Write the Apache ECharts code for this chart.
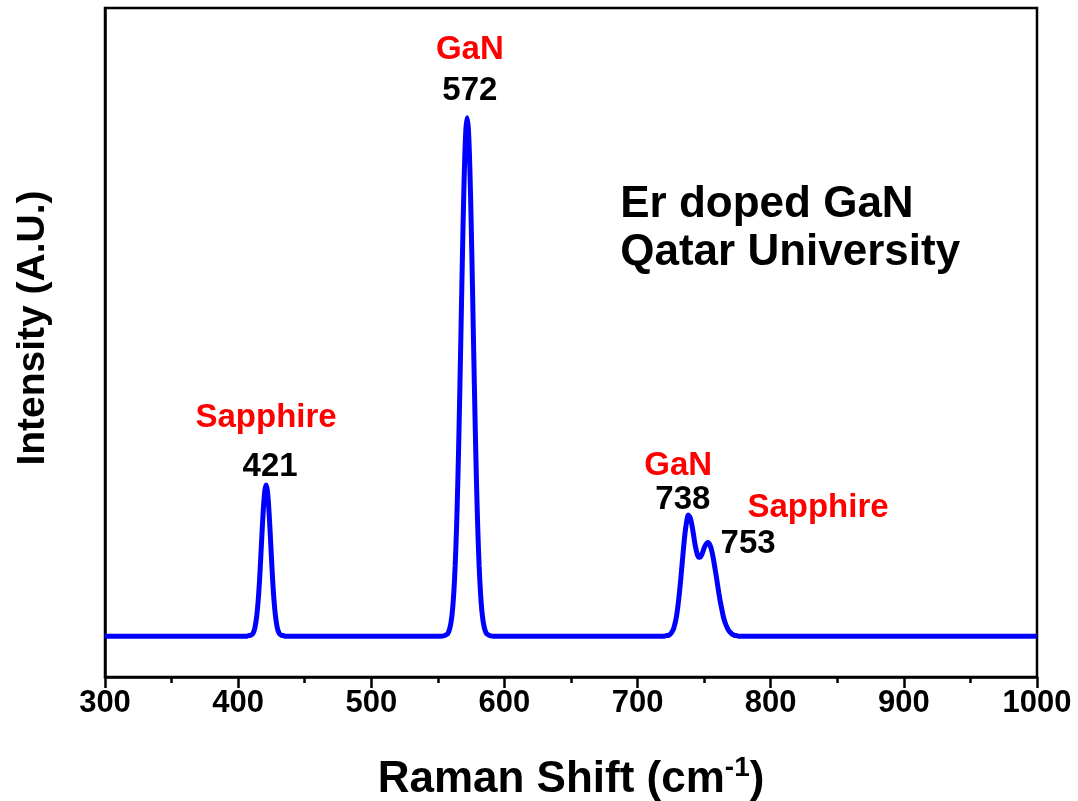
<!DOCTYPE html>
<html>
<head>
<meta charset="utf-8">
<script src="https://cdn.jsdelivr.net/npm/echarts@6/dist/echarts.min.js"></script>
<style>
html,body{margin:0;padding:0;background:#fff;overflow:hidden;}
#chart{width:1078px;height:801px;}
</style>
</head>
<body>
<div id="chart"></div>
<script>
// Raman shift (cm^-1) and intensity (A.U., arbitrary scale)
const ramanShift = [
  300, 350, 400, 407, 408, 409, 410, 411, 412, 413, 414, 415, 416, 417, 418, 419, 420,
  421, 422, 423, 424, 425, 426, 427, 428, 429, 430, 431, 432, 433, 434, 435, 450, 500, 550,
  552, 555, 557, 558, 559, 560, 561, 562, 563, 564, 565, 566, 567, 568, 569, 570, 571,
  572, 573, 574, 575, 576, 577, 578, 579, 580, 581, 582, 583, 584, 585, 586, 587, 589, 592,
  650, 700, 720, 722, 723, 724, 725, 726, 727, 728, 729, 730, 731, 732, 733, 734, 735, 736, 737,
  738, 739, 740, 741, 742, 743, 744, 745, 746, 747, 748, 749, 750, 751, 752,
  753, 754, 755, 756, 757, 758, 759, 760, 761, 762, 763, 764, 765, 766, 767, 768, 769, 770,
  771, 772, 773, 774, 776, 800, 900, 1000
];
const intensity = [
  61, 61, 61, 61, 62, 62, 63, 65, 69, 78, 92, 113, 142, 179, 218, 253, 278,
  287, 278, 253, 218, 179, 142, 113, 92, 78, 69, 65, 63, 62, 62, 61, 61, 61, 61,
  61, 62, 64, 67, 73, 83, 100, 127, 166, 221, 292, 380, 479, 583, 682, 763, 817,
  836, 817, 763, 682, 583, 479, 380, 292, 221, 166, 127, 100, 83, 73, 67, 64, 62, 61,
  61, 61, 61, 62, 62, 63, 65, 68, 72, 79, 88, 101, 118, 137, 159, 181, 203, 221, 234,
  242, 240, 235, 225, 213, 200, 190, 182, 179, 179, 182, 187, 193, 197, 200,
  201, 199, 194, 186, 176, 164, 152, 139, 126, 114, 104, 94, 86, 80, 75, 71, 68, 66,
  64, 63, 62, 62, 61, 61, 61, 61
];
const xTicks = { min: 300, max: 1000, interval: 100 };
const yRange = { min: 0, max: 1000 };

// Peak annotations: [x, y] in data units, text, colour
const peakLabelPos = [[574, 937], [574, 876], [421, 388], [424, 314], [730.5, 316], [734, 265], [835.5, 253], [783, 199]];
const peakLabelText = ['GaN', '572', 'Sapphire', '421', 'GaN', '738', 'Sapphire', '753'];
const peakLabelColor = ['#ff0000', '#000000', '#ff0000', '#000000', '#ff0000', '#000000', '#ff0000', '#000000'];

const infoPos = [[687, 705], [687, 634]];
const infoText = ['Er doped GaN', 'Qatar University'];

const xTitle = 'Raman Shift (cm{sup|-1})';
const yTitle = 'Intensity (A.U.)';

const FONT = '"Liberation Sans", Arial, sans-serif';

const chart = echarts.init(document.getElementById('chart'));
const lineData = ramanShift.map((x, i) => [x, intensity[i]]);

const labelData = peakLabelPos.map((p, i) => ({
  value: p,
  label: { formatter: peakLabelText[i], color: peakLabelColor[i] }
}));
const infoData = infoPos.map((p, i) => ({ value: p, label: { formatter: infoText[i] } }));

chart.setOption({
  animation: false,
  backgroundColor: '#ffffff',
  grid: {
    left: 105, right: 41, top: 8, bottom: 124, containLabel: false, outerBoundsMode: 'none',
    show: true, borderColor: '#000', borderWidth: 2.5, backgroundColor: 'transparent'
  },
  xAxis: {
    type: 'value', min: xTicks.min, max: xTicks.max, interval: xTicks.interval,
    name: xTitle, nameLocation: 'middle', nameGap: 77,
    nameTextStyle: {
      fontFamily: FONT, fontWeight: 'bold', fontSize: 44, color: '#000',
      rich: { sup: { fontFamily: FONT, fontWeight: 'bold', fontSize: 28, color: '#000', verticalAlign: 'top', padding: [0, 0, 24, 0] } }
    },
    axisLine: { show: true, lineStyle: { color: '#000', width: 2.5 } },
    axisTick: { show: true, inside: false, length: 11, lineStyle: { color: '#000', width: 2.5 } },
    minorTick: { show: true, splitNumber: 2, length: 6, lineStyle: { color: '#000', width: 2.5 } },
    axisLabel: { fontFamily: FONT, fontWeight: 'bold', fontSize: 31, color: '#000', margin: 11, formatter: v => String(v) },
    splitLine: { show: false }
  },
  yAxis: {
    type: 'value', min: yRange.min, max: yRange.max,
    axisLine: { show: true, lineStyle: { color: '#000', width: 2.5 } },
    axisTick: { show: false }, axisLabel: { show: false }, splitLine: { show: false }
  },
  graphic: [{
    type: 'text', x: 33, y: 328, rotation: Math.PI / 2,
    style: { text: yTitle, fontFamily: FONT, fontWeight: 'bold', fontSize: 39, fill: '#000', align: 'center', verticalAlign: 'middle' }
  }],
  series: [
    {
      type: 'line', data: lineData, showSymbol: false, symbol: 'none', smooth: 0.3,
      lineStyle: { color: '#0000ff', width: 5 }, z: 3
    },
    {
      type: 'scatter', data: labelData, symbolSize: 1, itemStyle: { color: 'rgba(0,0,0,0)', opacity: 1 },
      label: { show: true, position: 'inside', fontFamily: FONT, fontWeight: 'bold', fontSize: 33, opacity: 1 },
      silent: true, z: 4
    },
    {
      type: 'scatter', data: infoData, symbolSize: 1, itemStyle: { color: 'rgba(0,0,0,0)', opacity: 1 },
      label: { show: true, position: 'inside', align: 'left', verticalAlign: 'middle', fontFamily: FONT, fontWeight: 'bold', fontSize: 44, color: '#000', opacity: 1 },
      silent: true, z: 4
    }
  ]
});
</script>
</body>
</html>
